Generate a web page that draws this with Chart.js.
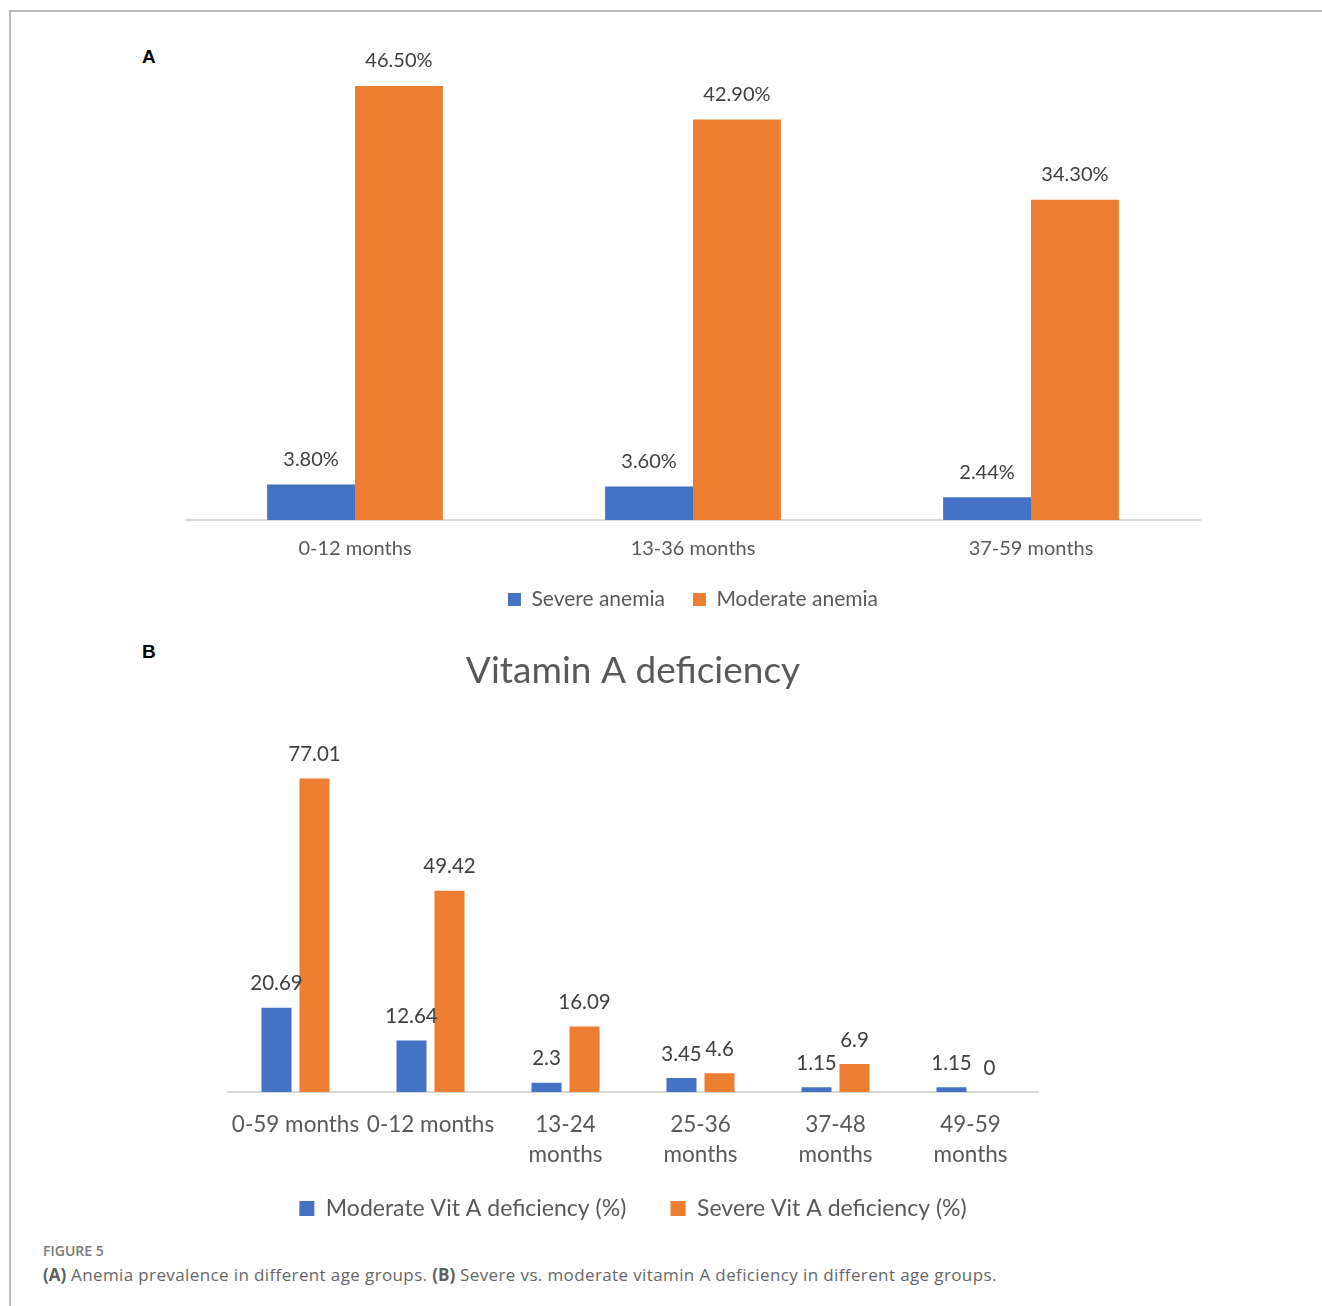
<!DOCTYPE html>
<html><head><meta charset="utf-8">
<script src="https://cdn.jsdelivr.net/npm/chart.js@4.4.1/dist/chart.umd.min.js"></script>
<style>
html,body{margin:0;padding:0;background:#fff;}
body{width:1322px;height:1306px;position:relative;overflow:hidden;}
#frame{position:absolute;left:9px;top:10px;width:1313px;height:1296px;border-top:2px solid #bcbcbc;border-left:2px solid #bcbcbc;box-sizing:border-box;}
.panel{position:absolute;font-family:"Liberation Sans",Arial,sans-serif;font-weight:bold;font-size:19px;color:#000;line-height:1;}
canvas{position:absolute;left:0;}
#cA{top:0;}
#cB{top:630px;}
#cap1{position:absolute;left:43px;top:1242px;font-family:"Open Sans",sans-serif;font-weight:600;font-size:14px;color:#7a7a7a;line-height:18px;}
#cap2{position:absolute;left:43px;top:1263px;font-family:"Open Sans",sans-serif;font-weight:400;font-size:17px;color:#666;line-height:23px;white-space:nowrap;letter-spacing:0.38px;}
#cap2 b{font-weight:700;color:#606060;letter-spacing:0;}
</style>
</head><body>
<div id="frame"></div>
<div class="panel" style="left:142px;top:47px;">A</div>
<div class="panel" style="left:142px;top:642px;">B</div>
<canvas id="cA" width="1322" height="620"></canvas>
<canvas id="cB" width="1322" height="600"></canvas>
<div id="cap1">FIGURE 5</div>
<div id="cap2"><b>(A)</b> Anemia prevalence in different age groups. <b>(B)</b> Severe vs. moderate vitamin A deficiency in different age groups.</div>
<script>
const panelACategories = ["0-12 months", "13-36 months", "37-59 months"];
const severeAnemia = [3.8, 3.6, 2.44];
const moderateAnemia = [46.5, 42.9, 34.3];

const panelBCategories = ["0-59 months", "0-12 months", ["13-24", "months"], ["25-36", "months"], ["37-48", "months"], ["49-59", "months"]];
const moderateVitA = [20.69, 12.64, 2.3, 3.45, 1.15, 1.15];
const severeVitA = [77.01, 49.42, 16.09, 4.6, 6.9, 0];

const BLUE = "#4472C4", ORANGE = "#ED7D31", TXT = "#595959", LBL = "#404040";
const FONT = "Lato, 'Open Sans', sans-serif";

function labelPlugin(fmt, size, offset) {
  return {
    id: 'barLabels',
    afterDraw(chart) {
      const ctx = chart.ctx;
      ctx.save();
      ctx.font = size + "px " + FONT;
      ctx.fillStyle = LBL;
      ctx.textAlign = 'center';
      ctx.textBaseline = 'middle';
      chart.data.datasets.forEach((ds, di) => {
        chart.getDatasetMeta(di).data.forEach((bar, i) => {
          ctx.fillText(fmt(ds.data[i]), bar.x, bar.y - offset);
        });
      });
      ctx.restore();
    }
  };
}

Chart.defaults.font.family = FONT;
Chart.defaults.color = TXT;

new Chart(document.getElementById('cA'), {
  type: 'bar',
  data: {
    labels: panelACategories,
    datasets: [
      { label: 'Severe anemia', data: severeAnemia, backgroundColor: BLUE },
      { label: 'Moderate anemia', data: moderateAnemia, backgroundColor: ORANGE }
    ]
  },
  options: {
    responsive: false, animation: false, devicePixelRatio: 1,
    layout: { padding: { left: 186, right: 122, top: 53.3, bottom: 0 } },
    datasets: { bar: { categoryPercentage: 0.52, barPercentage: 1 } },
    scales: {
      x: { grid: { display: false }, border: { display: true, color: '#d9d9d9', width: 2 },
           ticks: { color: TXT, font: { size: 20, lineHeight: 1.2 }, padding: 9 },
           afterFit(scale) { scale.height -= 9; } },
      y: { display: false, min: 0, max: 50 }
    },
    plugins: {
      legend: { position: 'bottom', labels: { boxWidth: 13, boxHeight: 13, color: TXT, font: { size: 21 }, padding: 28 } },
      tooltip: { enabled: false }
    }
  },
  plugins: [labelPlugin(v => v.toFixed(2) + '%', 20, 25)]
});

new Chart(document.getElementById('cB'), {
  type: 'bar',
  data: {
    labels: panelBCategories,
    datasets: [
      { label: 'Moderate Vit A deficiency (%)', data: moderateVitA, backgroundColor: BLUE },
      { label: 'Severe Vit A deficiency (%)', data: severeVitA, backgroundColor: ORANGE }
    ]
  },
  options: {
    responsive: false, animation: false, devicePixelRatio: 1,
    layout: { padding: { left: 228, right: 284, top: 0, bottom: 0 } },
    datasets: { bar: { categoryPercentage: 0.563, barPercentage: 0.79 } },
    scales: {
      x: { grid: { display: false }, border: { display: true, color: '#d9d9d9', width: 2 },
           ticks: { color: TXT, font: { size: 22.5, lineHeight: 1.3333 }, padding: 10, maxRotation: 0, autoSkip: false },
           afterFit(scale) { scale.height -= 10; } },
      y: { display: false, min: 0, max: 80 }
    },
    plugins: {
      title: { display: true, text: 'Vitamin A deficiency', color: TXT, font: { size: 37, weight: 'normal' }, padding: { top: 19, bottom: 73 } },
      legend: { position: 'bottom', labels: { boxWidth: 15, boxHeight: 15, color: TXT, font: { size: 23 }, padding: 27,
        generateLabels(chart) {
          const items = Chart.defaults.plugins.legend.labels.generateLabels(chart);
          items[0].text += '\u2003';
          return items;
        } } },
      tooltip: { enabled: false }
    }
  },
  plugins: [labelPlugin(v => String(v), 20.5, 24)]
});
</script>
</body></html>
